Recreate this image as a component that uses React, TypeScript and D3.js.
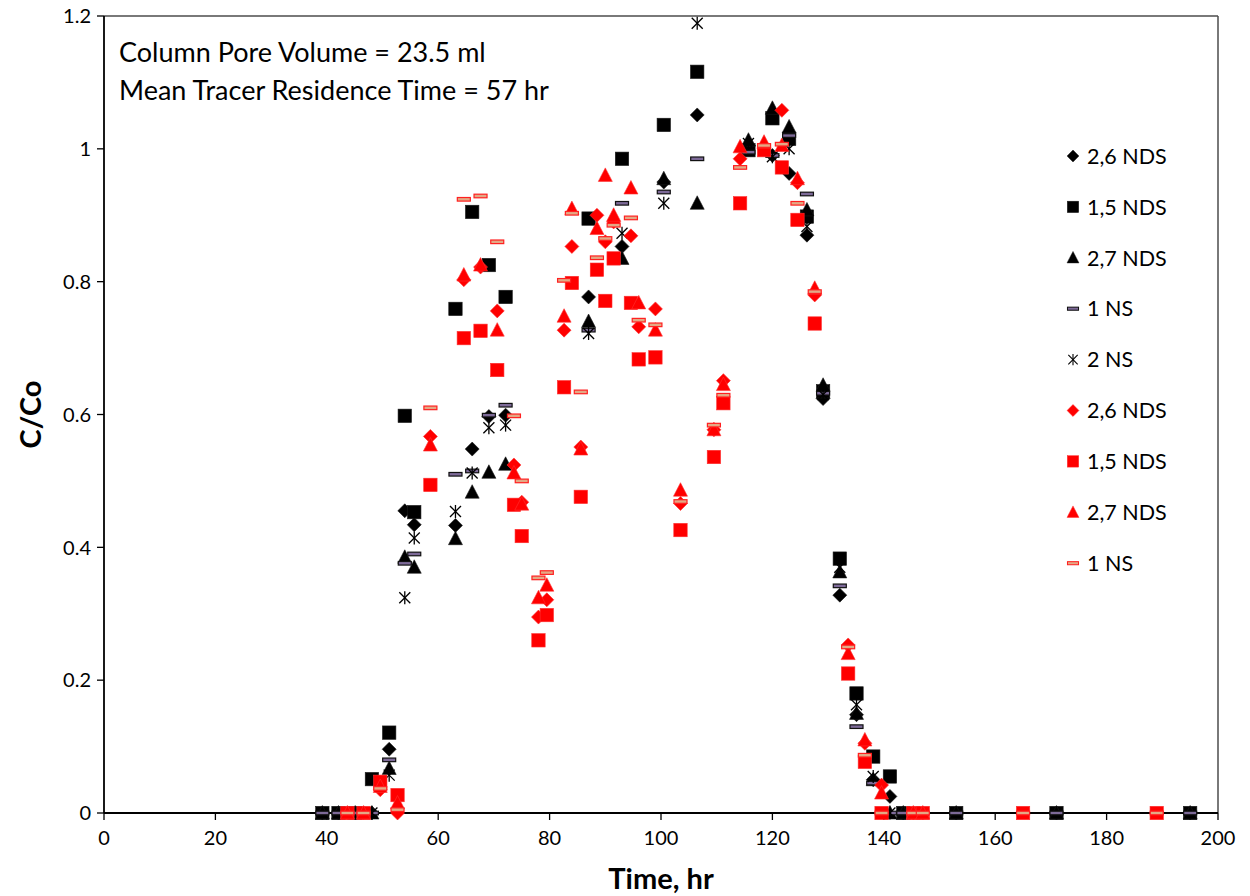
import React from "react";
import * as d3 from "d3";

// ---------- data ----------
const blackTimes = [39.2, 42.1, 45.1, 48.1, 51.2, 54.0, 55.7, 63.1, 66.1, 69.1, 72.1, 87.0, 93.0, 100.5, 106.5, 115.7, 120.0, 123.0, 126.2, 129.1, 132.1, 135.1, 138.1, 141.1, 143.5, 153.0, 171.0, 195.0];
const b26NDS = [0, 0, 0, 0, 0.096, 0.455, 0.434, 0.433, 0.548, 0.597, 0.599, 0.777, 0.853, 0.95, 1.051, 1.005, 0.99, 0.963, 0.87, 0.624, 0.328, 0.148, 0.05, 0.025, 0, 0, 0, 0];
const b15NDS = [0, 0, 0, 0.051, 0.121, 0.598, 0.453, 0.759, 0.905, 0.825, 0.777, 0.895, 0.985, 1.036, 1.116, 0.998, 1.046, 1.015, 0.898, 0.635, 0.383, 0.18, 0.085, 0.055, 0, 0, 0, 0];
const b27NDS = [0, 0, 0, 0, 0.067, 0.385, 0.37, 0.413, 0.483, 0.513, 0.525, 0.74, 0.835, 0.955, 0.918, 1.013, 1.061, 1.033, 0.908, 0.644, 0.363, 0.15, 0.05, 0, 0, 0, 0, 0];
const b1NS = [0, 0, 0, 0, 0.08, 0.376, 0.39, 0.51, 0.515, 0.599, 0.614, 0.727, 0.918, 0.935, 0.985, 0.995, 0.99, 1.02, 0.932, 0.632, 0.342, 0.13, 0.045, 0, 0, 0, 0, 0];
const b2NS = [null, null, null, 0, 0.057, 0.324, 0.414, 0.454, 0.512, 0.58, 0.584, 0.722, 0.873, 0.918, 1.189, 1.008, 0.988, 1.0, 0.883, 0.63, 0.37, 0.163, 0.055, 0, null, null, null, null];

const redTimes = [43.7, 46.6, 49.6, 52.7, 58.6, 64.6, 67.6, 70.6, 73.6, 75.0, 78.0, 79.5, 82.6, 84.0, 85.6, 88.5, 90.0, 91.5, 94.6, 96.0, 99.0, 103.5, 109.5, 111.2, 114.2, 118.5, 121.7, 124.5, 127.6, 133.6, 136.6, 139.6, 145.3, 147.0, 165.0, 189.0];
const r26NDS = [0, 0, 0.035, 0, 0.567, 0.803, 0.822, 0.756, 0.524, 0.468, 0.295, 0.321, 0.727, 0.853, 0.551, 0.9, 0.86, 0.89, 0.869, 0.732, 0.759, 0.466, 0.577, 0.651, 0.985, 1.0, 1.058, 0.949, 0.78, 0.253, 0.105, 0.042, 0, 0, null, null];
const r15NDS = [0, 0, 0.047, 0.027, 0.494, 0.715, 0.726, 0.667, 0.464, 0.417, 0.26, 0.298, 0.641, 0.798, 0.476, 0.818, 0.771, 0.835, 0.768, 0.683, 0.686, 0.426, 0.536, 0.617, 0.918, 0.998, 0.972, 0.893, 0.737, 0.21, 0.077, 0, 0, 0, 0, 0];
const r27NDS = [0, 0, 0.04, 0.015, 0.554, 0.81, 0.825, 0.727, 0.512, 0.465, 0.324, 0.343, 0.748, 0.91, 0.548, 0.88, 0.96, 0.9, 0.941, 0.768, 0.727, 0.486, 0.577, 0.645, 1.003, 1.01, 1.005, 0.955, 0.79, 0.24, 0.11, 0.03, 0, 0, null, null];
const r1NS = [0, 0, 0.037, 0.005, 0.61, 0.924, 0.929, 0.86, 0.598, 0.5, 0.354, 0.362, 0.802, 0.903, 0.634, 0.836, 0.865, 0.885, 0.896, 0.742, 0.735, 0.469, 0.584, 0.629, 0.972, 1.005, 1.007, 0.918, 0.785, 0.25, 0.087, 0, 0, 0, 0, 0];

const xTicks = [0, 20, 40, 60, 80, 100, 120, 140, 160, 180, 200];
const yTicks = [0, 0.2, 0.4, 0.6, 0.8, 1, 1.2];
const annotations = ["Column Pore Volume = 23.5 ml", "Mean Tracer Residence Time = 57 hr"];

type Shape = "diamond" | "square" | "triangle" | "dash" | "star";
interface Series { name: string; shape: Shape; color: "black" | "red"; times: number[]; values: (number | null)[] }

const series: Series[] = [
  { name: "2,6 NDS", shape: "diamond", color: "black", times: blackTimes, values: b26NDS },
  { name: "1,5 NDS", shape: "square", color: "black", times: blackTimes, values: b15NDS },
  { name: "2,7 NDS", shape: "triangle", color: "black", times: blackTimes, values: b27NDS },
  { name: "1 NS", shape: "dash", color: "black", times: blackTimes, values: b1NS },
  { name: "2 NS", shape: "star", color: "black", times: blackTimes, values: b2NS },
  { name: "2,6 NDS", shape: "diamond", color: "red", times: redTimes, values: r26NDS },
  { name: "1,5 NDS", shape: "square", color: "red", times: redTimes, values: r15NDS },
  { name: "2,7 NDS", shape: "triangle", color: "red", times: redTimes, values: r27NDS },
  { name: "1 NS", shape: "dash", color: "red", times: redTimes, values: r1NS },
];

const FONT = "Lato, 'Open Sans', sans-serif";

function Marker({ shape, color, x, y, s = 1 }: { shape: Shape; color: string; x: number; y: number; s?: number }) {
  const fill = color === "red" ? "#ff0000" : "#000000";
  const edge = color === "red" ? "#ff3030" : "#1a1a1a";
  const t = `translate(${x},${y}) scale(${s})`;
  if (shape === "diamond") return <path transform={t} d="M0,-7L7,0L0,7L-7,0Z" fill={fill} stroke={edge} strokeWidth={0.6} />;
  if (shape === "square") return <rect transform={t} x={-6.7} y={-6.7} width={13.4} height={13.4} fill={fill} stroke={edge} strokeWidth={0.6} />;
  if (shape === "triangle") return <path transform={t} d="M0,-7.5L7,6L-7,6Z" fill={fill} stroke={edge} strokeWidth={0.6} />;
  if (shape === "dash")
    return (
      <rect transform={t} x={-6.5} y={-1.8} width={13} height={3.6}
        fill={color === "red" ? "#e3a985" : "#7d6a98"} stroke={color === "red" ? "#ff2020" : "#111"} strokeWidth={1.2} />
    );
  return (
    <g transform={t} stroke="#000" strokeWidth={1.3} fill="none">
      <line x1={0} y1={-6.5} x2={0} y2={6.5} />
      <line x1={-5.5} y1={-5.5} x2={5.5} y2={5.5} />
      <line x1={-5.5} y1={5.5} x2={5.5} y2={-5.5} />
    </g>
  );
}

export default function App() {
  const W = 1250, H = 896;
  const x = d3.scaleLinear().domain([0, 200]).range([104, 1218]);
  const y = d3.scaleLinear().domain([0, 1.2]).range([813, 16]);
  const [x0, x1] = x.range();
  const [y0, y1] = y.range();

  return (
    <svg width={W} height={H} style={{ position: "absolute", left: 0, top: 0, background: "#fff" }} fontFamily={FONT}>
      <rect width={W} height={H} fill="#fff" />
      {/* frame */}
      <line x1={x0} y1={y1} x2={x1} y2={y1} stroke="#4d4d4d" strokeWidth={1.5} />
      <line x1={x1} y1={y1} x2={x1} y2={y0} stroke="#4d4d4d" strokeWidth={1.5} />
      {/* axes */}
      <line x1={x0} y1={y0} x2={x1} y2={y0} stroke="#000" strokeWidth={1.8} />
      <line x1={x0} y1={y0} x2={x0} y2={y1} stroke="#000" strokeWidth={1.8} />
      {xTicks.map((t) => (
        <g key={"xt" + t}>
          <line x1={x(t)} x2={x(t)} y1={y0} y2={y0 + 7} stroke="#000" strokeWidth={1.3} />
          <text x={x(t)} y={y0 + 32} textAnchor="middle" fontSize={20} fill="#000">{t}</text>
        </g>
      ))}
      {yTicks.map((t) => (
        <g key={"yt" + t}>
          <line x1={x0 - 7} x2={x0} y1={y(t)} y2={y(t)} stroke="#000" strokeWidth={1.3} />
          <text x={x0 - 13} y={y(t)} dy="0.36em" textAnchor="end" fontSize={20} fill="#000">{String(t)}</text>
        </g>
      ))}
      <text x={(x0 + x1) / 2} y={889} textAnchor="middle" fontSize={29} fontWeight="bold" fill="#000">Time, hr</text>
      <text transform={`translate(41,${(y0 + y1) / 2}) rotate(-90)`} textAnchor="middle" fontSize={29} fontWeight="bold" fill="#000">C/Co</text>

      {/* annotation */}
      {annotations.map((a, i) => (
        <text key={a} x={119} y={62 + i * 37.5} fontSize={27} fill="#000">{a}</text>
      ))}

      {/* points */}
      {series.map((s, si) => (
        <g key={"s" + si}>
          {s.values.map((v, i) =>
            v === null ? null : <Marker key={i} shape={s.shape} color={s.color} x={x(s.times[i])} y={y(v)} />
          )}
        </g>
      ))}

      {/* legend */}
      {series.map((s, i) => {
        const ly = 156 + i * 50.9;
        return (
          <g key={"lg" + i}>
            <Marker shape={s.shape} color={s.color} x={1073} y={ly} s={0.85} />
            <text x={1087} y={ly} dy="0.36em" fontSize={21.5} fill="#000">{s.name}</text>
          </g>
        );
      })}
    </svg>
  );
}
